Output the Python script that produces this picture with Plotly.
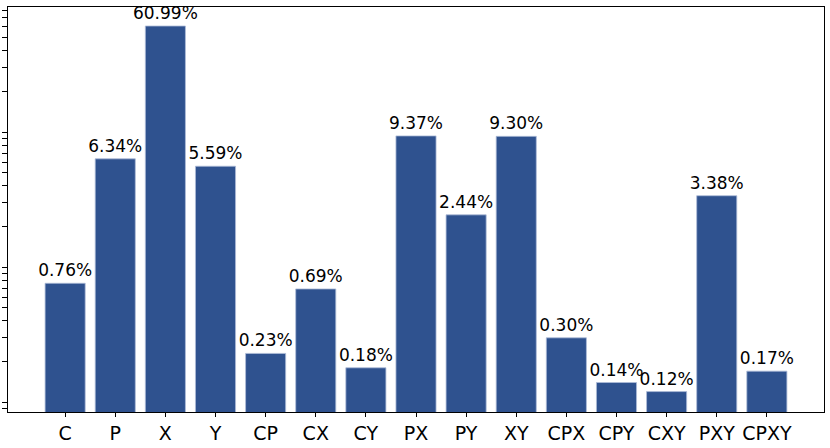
import plotly.graph_objects as go

# share of each combination, in percent
combos = ["C", "P", "X", "Y", "CP", "CX", "CY", "PX", "PY", "XY",
          "CPX", "CPY", "CXY", "PXY", "CPXY"]
shares = [0.76, 6.34, 60.99, 5.59, 0.23, 0.69, 0.18, 9.37, 2.44, 9.30,
          0.30, 0.14, 0.12, 3.38, 0.17]
labels = ["{:.2f}%".format(v) for v in shares]

fig = go.Figure()
fig.add_trace(go.Bar(
    x=list(range(len(combos))),
    y=shares,
    width=0.8,
    marker=dict(color="#2f528f", line=dict(color="#aebcd8", width=0.8)),
    text=labels,
    textposition="outside",
    constraintext="none",
    textfont=dict(family="DejaVu Sans", size=17, color="black"),
    cliponaxis=False,
))

fig.update_layout(
    width=830, height=448,
    margin=dict(l=8, r=6, t=7, b=36, autoexpand=False),
    paper_bgcolor="white", plot_bgcolor="white",
    showlegend=False,
    font=dict(family="DejaVu Sans", color="black"),
)
fig.update_xaxes(
    range=[-1.14, 15.14],
    tickvals=list(range(len(combos))),
    ticktext=combos,
    tickfont=dict(size=19),
    ticks="outside", ticklen=4, tickcolor="black",
    showline=True, linecolor="black", linewidth=1.3, mirror=True,
    showgrid=False, zeroline=False, automargin=False,
)
fig.update_yaxes(
    type="log",
    range=[-1.072, 1.926],
    showticklabels=False,
    ticks="outside", ticklen=5, tickcolor="black",
    minor=dict(ticks="outside", ticklen=3, tickcolor="black", showgrid=False),
    showline=True, linecolor="black", linewidth=1.3, mirror=True,
    showgrid=False, zeroline=False, automargin=False,
)

# drop the page's default body margin so the figure sits at the window corner
fig.write_html("out.html", config={"displayModeBar": False},
               post_script="document.body.style.margin='0';")
